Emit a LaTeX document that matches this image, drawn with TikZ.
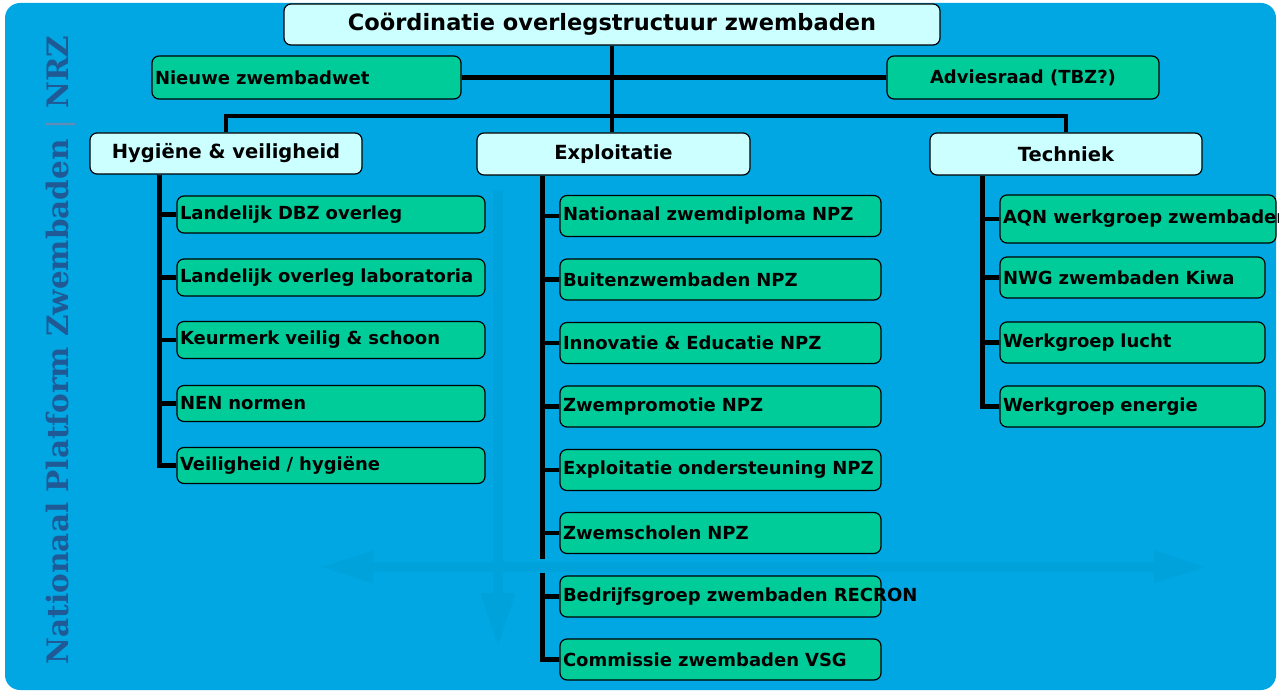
\documentclass[tikz,border=0pt]{standalone}
\usepackage{fontspec}
\setmainfont{DejaVu Sans}
\newfontfamily\sidefont{DejaVu Serif}
\usepackage{tikz}
\usetikzlibrary{arrows.meta}
\definecolor{bgblue}{RGB}{0,167,227}
\definecolor{markblue}{RGB}{0,162,219}
\definecolor{boxgreen}{RGB}{0,204,153}
\definecolor{boxcyan}{RGB}{204,255,255}
\definecolor{sideblue}{RGB}{31,90,150}

\begin{document}
\begin{tikzpicture}[x=1pt, y=-1pt,
    headbox/.style={draw, line width=1.2pt, fill=boxcyan, rounded corners=7pt, inner sep=0pt,
        minimum width=272pt, minimum height=41pt, font=\fontsize{19.5}{22}\selectfont\bfseries},
    itembox/.style={draw, line width=1.2pt, fill=boxgreen, rounded corners=7pt, inner xsep=3pt,
        inner ysep=0pt, text width=#1, align=left, minimum height=41pt,
        font=\fontsize{18}{20}\selectfont\bfseries},
    conn/.style={line width=4.5pt},
    markarrow/.style={draw=markblue, line width=10pt}]
    \useasboundingbox (0,0) rectangle (1279,692);
    \fill[white] (0,0) rectangle (1279,692);
    \fill[bgblue, rounded corners=15pt] (5,3) rectangle (1276,690);

    \coordinate (wmleft) at (320,567);
    \coordinate (wmright) at (1207,567);
    \coordinate (wmtop) at (498,190);
    \coordinate (wmbottom) at (498,647);
    \draw[markarrow, {Triangle[width=30pt,length=53pt]}-{Triangle[width=30pt,length=53pt]}] (wmleft) -- (wmright);
    \draw[markarrow, -{Triangle[width=32pt,length=54pt]}] (wmtop) -- (wmbottom);

    \node[rotate=90, anchor=base, text=sideblue, font=\sidefont\fontsize{29.5}{30}\selectfont\bfseries] (side) at (68,350)
        {Nationaal Platform Zwembaden {\mdseries\color{sideblue!70!white}|} NRZ};

    \node[headbox, minimum width=656pt, font=\fontsize{22.5}{25}\selectfont\bfseries] (coord) at (612,24.5) {Coördinatie overlegstructuur zwembaden};
    \node[itembox=303pt, minimum height=43pt] (wet) at (306.5,77.5) {Nieuwe zwembadwet};
    \node[headbox, fill=boxgreen, minimum height=43pt, font=\fontsize{18}{20}\selectfont\bfseries] (advies) at (1023,77.5) {Adviesraad (TBZ?)};

    \node[headbox] (hyg) at (226,153.5) {Hygiëne \& veiligheid};
    \node[headbox, minimum width=273pt, minimum height=42pt] (expl) at (613.5,154) {Exploitatie};
    \node[headbox, minimum height=42pt] (tech) at (1066,154) {Techniek};

    \coordinate (bus) at (612,116);
    \draw[conn] (coord.south) -- (coord.south |- expl.north);
    \draw[conn] (wet.east) -- (advies.west);
    \draw[conn] (hyg.north) -- (hyg.north |- bus) -- (tech.north |- bus) -- (tech.north);

    \node[itembox=302pt, minimum height=37pt] (h1) at (331,214.5) {Landelijk DBZ overleg};
    \node[itembox=302pt, minimum height=37pt] (h2) at (331,277.5) {Landelijk overleg laboratoria};
    \node[itembox=302pt, minimum height=37pt] (h3) at (331,340) {Keurmerk veilig \& schoon};
    \node[itembox=302pt, minimum height=36pt] (h4) at (331,403.5) {NEN normen};
    \node[itembox=302pt, minimum height=36pt] (h5) at (331,465.5) {Veiligheid / hygiëne};

    \coordinate (htop) at ([xshift=-17pt]hyg.south -| h1.west);
    \draw[conn] (htop) |- (h5.west);
    \draw[conn] (htop |- h1.west) -- (h1.west);
    \draw[conn] (htop |- h2.west) -- (h2.west);
    \draw[conn] (htop |- h3.west) -- (h3.west);
    \draw[conn] (htop |- h4.west) -- (h4.west);

    \node[itembox=315pt] (e1) at (720.5,216) {Nationaal zwemdiploma NPZ};
    \node[itembox=315pt] (e2) at (720.5,279.5) {Buitenzwembaden NPZ};
    \node[itembox=315pt] (e3) at (720.5,343) {Innovatie \& Educatie NPZ};
    \node[itembox=315pt] (e4) at (720.5,406.5) {Zwempromotie NPZ};
    \node[itembox=315pt] (e5) at (720.5,470) {Exploitatie ondersteuning NPZ};
    \node[itembox=315pt] (e6) at (720.5,533) {Zwemscholen NPZ};
    \node[itembox=315pt] (e7) at (720.5,596.5) {\mbox{Bedrijfsgroep zwembaden RECRON}};
    \node[itembox=315pt] (e8) at (720.5,659.5) {Commissie zwembaden VSG};

    \coordinate (etop) at ([xshift=-17pt]expl.south -| e1.west);
    \coordinate (egap1) at (etop |- 0,559);
    \coordinate (egap2) at (etop |- 0,573);
    \draw[conn] (etop) -- (egap1);
    \draw[conn] (egap2) |- (e8.west);
    \draw[conn] (etop |- e1.west) -- (e1.west);
    \draw[conn] (etop |- e2.west) -- (e2.west);
    \draw[conn] (etop |- e3.west) -- (e3.west);
    \draw[conn] (etop |- e4.west) -- (e4.west);
    \draw[conn] (etop |- e5.west) -- (e5.west);
    \draw[conn] (etop |- e6.west) -- (e6.west);
    \draw[conn] (etop |- e7.west) -- (e7.west);

    \node[itembox=270pt, minimum height=48pt] (t1) at (1138,219) {\mbox{AQN werkgroep zwembaden}};
    \node[itembox=259pt] (t2) at (1132.5,277.5) {NWG zwembaden Kiwa};
    \node[itembox=259pt] (t3) at (1132.5,342.5) {Werkgroep lucht};
    \node[itembox=259pt] (t4) at (1132.5,406.5) {Werkgroep energie};

    \coordinate (ttop) at ([xshift=-17pt]tech.south -| t2.west);
    \draw[conn] (ttop) |- (t4.west);
    \draw[conn] (ttop |- t1.west) -- (t1.west);
    \draw[conn] (ttop |- t2.west) -- (t2.west);
    \draw[conn] (ttop |- t3.west) -- (t3.west);
\end{tikzpicture}
\end{document}
